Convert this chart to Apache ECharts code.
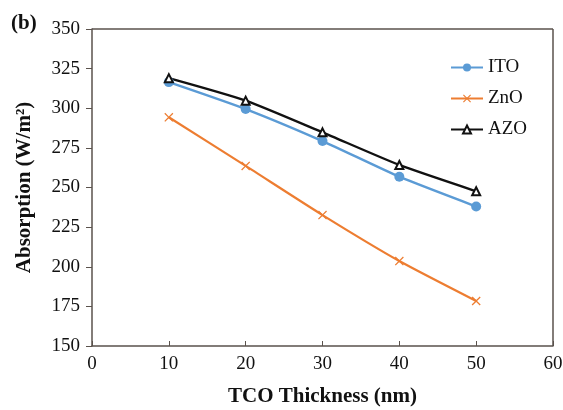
<!DOCTYPE html>
<html>
<head>
<meta charset="utf-8">
<script src="https://cdn.jsdelivr.net/npm/echarts@6/dist/echarts.min.js"></script>
<style>
	html, body { margin: 0; padding: 0; background: #fff; }
	#chart { width: 563px; height: 410px; }
</style>
</head>
<body>
<div id="chart"></div>
<script>
	var thickness = [10, 20, 30, 40, 50];
	var ito = [316.5, 299.5, 279.3, 256.8, 238];
	var zno = [294.3, 263.6, 232.6, 203.6, 178.4];
	var azo = [319, 304.8, 284.8, 264.2, 247.6];

	var axisColor = '#5a524c';
	var serif = '"Liberation Serif", "DejaVu Serif", serif';
	var xShape = 'path://M1,0 L5,4 L9,0 L10,1 L6,5 L10,9 L9,10 L5,6 L1,10 L0,9 L4,5 L0,1 Z';

	function pairs(ys) {
		var out = [];
		for (var i = 0; i < thickness.length; i++) {
			out.push([thickness[i], ys[i]]);
		}
		return out;
	}

	var chart = echarts.init(document.getElementById('chart'));
	chart.setOption({
		animation: false,
		backgroundColor: '#fff',
		textStyle: { fontFamily: serif },
		title: {
			text: '(b)',
			left: 6,
			top: 8,
			textStyle: { fontFamily: serif, fontSize: 21, fontWeight: 'bold', color: '#111' }
		},
		legend: {
			orient: 'vertical',
			left: 445,
			top: 53,
			itemWidth: 32,
			itemHeight: 10,
			itemGap: 12,
			textStyle: { fontFamily: serif, fontSize: 19, color: '#111' },
			data: ['ITO', 'ZnO', 'AZO']
		},
		grid: { left: 92, right: 10, top: 29, bottom: 64, outerBoundsMode: 'none' },
		xAxis: {
			type: 'value',
			min: 0,
			max: 60,
			interval: 10,
			name: 'TCO Thickness (nm)',
			nameLocation: 'middle',
			nameGap: 40,
			nameTextStyle: { fontFamily: serif, fontSize: 21, fontWeight: 'bold', color: '#111' },
			axisLine: { show: true, lineStyle: { color: axisColor, width: 1.5 } },
			axisTick: { show: true, inside: true, length: 5, lineStyle: { color: axisColor } },
			axisLabel: { fontFamily: serif, fontSize: 19, color: '#111', margin: 9 },
			splitLine: { show: false }
		},
		yAxis: {
			type: 'value',
			min: 150,
			max: 350,
			interval: 25,
			name: 'Absorption (W/m²)',
			nameLocation: 'middle',
			nameGap: 57,
			nameTextStyle: { fontFamily: serif, fontSize: 21, fontWeight: 'bold', color: '#111' },
			axisLine: { show: true, lineStyle: { color: axisColor, width: 1.5 } },
			axisTick: { show: true, inside: false, length: 6, lineStyle: { color: axisColor } },
			axisLabel: { fontFamily: serif, fontSize: 19, color: '#111', margin: 12 },
			splitLine: { show: false }
		},
		series: [
			{
				name: 'ITO',
				type: 'line',
				smooth: 0.2,
				data: pairs(ito),
				symbol: 'circle',
				symbolSize: 10,
				lineStyle: { color: '#5b9bd5', width: 2.4 },
				itemStyle: { color: '#5b9bd5' }
			},
			{
				name: 'ZnO',
				type: 'line',
				smooth: 0.2,
				data: pairs(zno),
				symbol: xShape,
				symbolSize: 9,
				lineStyle: { color: '#ed7d31', width: 2.2 },
				itemStyle: { color: '#ed7d31' }
			},
			{
				name: 'AZO',
				type: 'line',
				smooth: 0.2,
				data: pairs(azo),
				symbol: 'triangle',
				symbolSize: 8,
				lineStyle: { color: '#111', width: 2.4 },
				itemStyle: { color: '#fff', borderColor: '#111', borderWidth: 2 }
			},
			{
				// frame: top and right border of the plot box
				type: 'line',
				silent: true,
				data: [],
				markLine: {
					silent: true,
					symbol: 'none',
					label: { show: false },
					lineStyle: { color: axisColor, width: 1.5, type: 'solid' },
					data: [
						[{ coord: [0, 350] }, { coord: [60, 350] }],
						[{ coord: [60, 150] }, { coord: [60, 350] }]
					]
				}
			}
		]
	});
</script>
</body>
</html>
